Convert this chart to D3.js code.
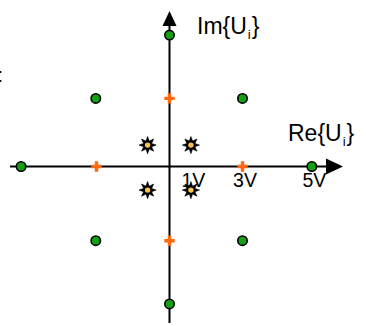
<!DOCTYPE html>
<html>
<head>
<meta charset="utf-8">
<script src="https://cdn.jsdelivr.net/npm/d3@7"></script>
<style>
  html, body { margin: 0; padding: 0; background: #fff; }
  svg { display: block; }
  text { font-family: "Liberation Sans", Arial, sans-serif; fill: #000; }
</style>
</head>
<body>
<svg id="chart" width="366" height="326"></svg>
<script>
// Constellation points in the complex plane (units: volts, Re / Im)
const outerRe = [0, 0, -6.1, 5.85, -3.03, 3.0, -3.03, 3.0];
const outerIm = [5.4, -5.65, 0, 0, 2.8, 2.8, -3.05, -3.05];
const midRe = [0, 0, -3.0, 3.0];
const midIm = [2.8, -3.05, 0, 0];
const innerRe = [-0.9, 0.88, -0.9, 0.88];
const innerIm = [0.88, 0.88, -0.97, -0.97];
const tickLabels = ["1V", "3V", "5V"];
// amplitude labels sit under the first-quadrant point of each ring on the Re axis
const tickAt = [innerRe[1], midRe[3], outerRe[3]];

const svg = d3.select("#chart");
const unit = 24.33;
const x = d3.scaleLinear().domain([-7, 8]).range([169.5 - 7 * unit, 169.5 + 8 * unit]);
const y = d3.scaleLinear().domain([-7, 7]).range([166.5 + 7 * unit, 166.5 - 7 * unit]);

// axes
const axX0 = 10, axX1 = 343, axY0 = 11, axY1 = 323;
svg.append("line").attr("x1", axX0).attr("x2", axX1 - 12).attr("y1", y(0)).attr("y2", y(0))
  .attr("stroke", "#000").attr("stroke-width", 2);
svg.append("line").attr("x1", x(0)).attr("x2", x(0)).attr("y1", axY0 + 12).attr("y2", axY1)
  .attr("stroke", "#000").attr("stroke-width", 2);
// arrow heads
svg.append("path")
  .attr("d", `M${axX1},${y(0)} L${axX1 - 17},${y(0) - 8} L${axX1 - 17},${y(0) + 8} Z`)
  .attr("fill", "#000");
svg.append("path")
  .attr("d", `M${x(0)},${axY0} L${x(0) - 7},${axY0 + 15} L${x(0) + 7},${axY0 + 15} Z`)
  .attr("fill", "#000");

// axis titles
function title(tx, ty, main) {
  const t = svg.append("text").attr("x", tx).attr("y", ty).attr("font-size", 23);
  t.append("tspan").text(main + "{U");
  t.append("tspan").text("i").attr("font-size", 13).attr("dy", 5).attr("dx", 1);
  t.append("tspan").text("}").attr("dy", -5).attr("dx", 1);
}
title(288, 141, "Re");
title(197, 34, "Im");
svg.append("text").attr("x", 3).attr("y", 82).attr("font-size", 20)
  .attr("text-anchor", "end").text(":");

// inner ring: 8-point stars
const starPath = d3.lineRadial().curve(d3.curveLinearClosed)(
  d3.range(16).map(i => [i * Math.PI / 8, i % 2 === 0 ? 8.6 : 4.3]));
const inner = innerRe.map((r, i) => [r, innerIm[i]]);
svg.selectAll("g.star").data(inner).join("g").attr("class", "star")
  .attr("transform", d => `translate(${x(d[0])},${y(d[1])})`)
  .each(function () {
    const g = d3.select(this);
    g.append("path").attr("d", starPath).attr("fill", "#000")
      .attr("stroke", "#000").attr("stroke-width", 0.6).attr("stroke-linejoin", "miter");
    g.append("circle").attr("r", 2.7).attr("fill", "#fbc24e");
  });

// amplitude labels
svg.selectAll("text.tick").data(tickAt).join("text").attr("class", "tick")
  .attr("x", d => x(d) + 2.5)
  .attr("y", 186.5).attr("font-size", 19.5).attr("text-anchor", "middle")
  .text((d, i) => tickLabels[i]);

// middle ring: orange crosses
const mid = midRe.map((r, i) => [r, midIm[i]]);
svg.selectAll("path.cross").data(mid).join("path").attr("class", "cross")
  .attr("transform", d => `translate(${x(d[0])},${y(d[1])})`)
  .attr("d", d3.symbol(d3.symbolCross, 60))
  .attr("fill", "#ff6a10");

// outer ring: green circles
const outer = outerRe.map((r, i) => [r, outerIm[i]]);
svg.selectAll("circle.outer").data(outer).join("circle").attr("class", "outer")
  .attr("cx", d => x(d[0])).attr("cy", d => y(d[1])).attr("r", 4.7)
  .attr("fill", "#13a013").attr("stroke", "#000").attr("stroke-width", 1.6);
</script>
</body>
</html>
